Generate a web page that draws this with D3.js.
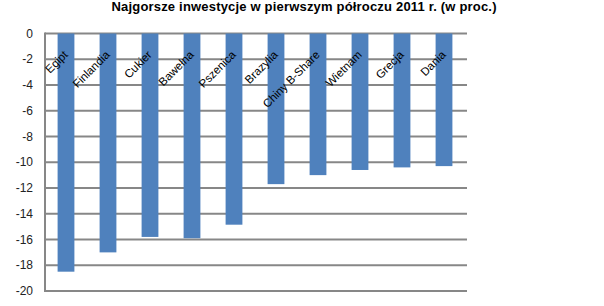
<!DOCTYPE html>
<html>
<head>
<meta charset="utf-8">
<script src="https://cdn.jsdelivr.net/npm/d3@7"></script>
<style>
  body { margin: 0; background: #fff; }
  svg { display: block; }
</style>
</head>
<body>
<svg id="chart" width="604" height="306"></svg>
<script>
var title_text = "Najgorsze inwestycje w pierwszym półroczu 2011 r. (w proc.)";
var categories = ["Egipt", "Finlandia", "Cukier", "Bawełna", "Pszenica", "Brazylia", "Chiny B-Share", "Wietnam", "Grecja", "Dania"];
var values = [-18.5, -17.0, -15.8, -15.9, -14.85, -11.7, -11.0, -10.6, -10.4, -10.3];
var y_ticks = [0, -2, -4, -6, -8, -10, -12, -14, -16, -18, -20];

var svg = d3.select("#chart");
var left = 45, right = 465, top_y = 33.5, bottom_y = 291;

var x_scale = d3.scaleBand()
  .domain(categories)
  .range([left, right])
  .paddingInner(0.6)
  .paddingOuter(0.3);

var y_scale = d3.scaleLinear()
  .domain([0, -20])
  .range([top_y, bottom_y]);

// gridlines
svg.append("g")
  .attr("class", "grid")
  .selectAll("line")
  .data(y_ticks)
  .enter().append("line")
  .attr("x1", left)
  .attr("x2", right + 2)
  .attr("y1", d => y_scale(d))
  .attr("y2", d => y_scale(d))
  .style("stroke", "#878787")
  .style("stroke-width", 2);

// left axis line
svg.append("line")
  .attr("x1", left).attr("x2", left)
  .attr("y1", y_scale(0) - 1).attr("y2", y_scale(-20) + 1)
  .style("stroke", "#878787")
  .style("stroke-width", 2);

// bars
svg.append("g")
  .attr("class", "bars")
  .selectAll("rect")
  .data(values)
  .enter().append("rect")
  .attr("x", (d, i) => x_scale(categories[i]))
  .attr("width", x_scale.bandwidth())
  .attr("y", d => y_scale(0))
  .attr("height", d => y_scale(d) - y_scale(0))
  .style("fill", "#4f81bd");

// y tick labels
svg.append("g")
  .selectAll("text")
  .data(y_ticks)
  .enter().append("text")
  .attr("x", 33)
  .attr("y", d => y_scale(d))
  .attr("dy", "0.35em")
  .attr("text-anchor", "end")
  .style("font-family", "'Liberation Sans', Arial, sans-serif")
  .style("font-size", "12px")
  .style("fill", "#222")
  .text(d => d);

// category labels, rotated
svg.append("g")
  .selectAll("text")
  .data(categories)
  .enter().append("text")
  .attr("transform", d => "translate(" + (x_scale(d) + x_scale.bandwidth() / 2 + 2.5) + ",55.5) rotate(-45)")
  .attr("text-anchor", "end")
  .style("font-family", "'Liberation Sans', Arial, sans-serif")
  .style("font-size", "11.5px")
  .style("fill", "#000")
  .text(d => d);

// title
svg.append("text")
  .attr("x", 304)
  .attr("y", 11)
  .attr("text-anchor", "middle")
  .attr("textLength", 385)
  .attr("lengthAdjust", "spacing")
  .style("font-family", "'Liberation Sans', Arial, sans-serif")
  .style("font-weight", "bold")
  .style("font-size", "13px")
  .style("fill", "#000")
  .text(title_text);
</script>
</body>
</html>
